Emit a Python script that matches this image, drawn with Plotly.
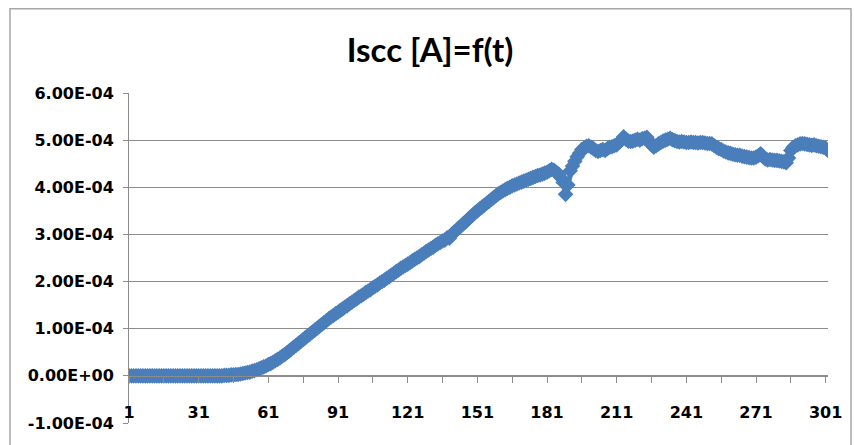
import plotly.graph_objects as go

# Iscc values in units of 1e-4 A, for t = 1..302
iscc_e4 = [
    0, 0, 0, 0, 0, 0, 0, 0, 0, 0,
    0, 0, 0, 0, 0, 0, 0, 0, 0, 0,
    0, 0, 0, 0, 0, 0, 0, 0, 0, 0,
    0, 0, 0, 0, 0, 0, 0, 0, 0, 0,
    0.00, 0.01, 0.01, 0.01, 0.02, 0.02, 0.03, 0.03, 0.04, 0.05,
    0.06, 0.07, 0.08, 0.10, 0.11, 0.13, 0.15, 0.17, 0.19, 0.21,
    0.24, 0.26, 0.29, 0.32, 0.35, 0.38, 0.42, 0.45, 0.49, 0.53,
    0.57, 0.61, 0.65, 0.69, 0.73, 0.77, 0.81, 0.85, 0.89, 0.93,
    0.97, 1.01, 1.05, 1.09, 1.13, 1.17, 1.21, 1.25, 1.28, 1.32,
    1.35, 1.39, 1.42, 1.46, 1.49, 1.53, 1.56, 1.60, 1.63, 1.67,
    1.70, 1.73, 1.77, 1.80, 1.83, 1.87, 1.90, 1.93, 1.97, 2.00,
    2.03, 2.07, 2.10, 2.14, 2.17, 2.21, 2.24, 2.28, 2.31, 2.34,
    2.37, 2.40, 2.44, 2.47, 2.50, 2.53, 2.57, 2.60, 2.64, 2.67,
    2.70, 2.73, 2.77, 2.80, 2.83, 2.86, 2.88, 2.93, 2.92, 3.00,
    3.05, 3.09, 3.14, 3.18, 3.23, 3.27, 3.32, 3.37, 3.41, 3.46,
    3.50, 3.54, 3.58, 3.62, 3.66, 3.70, 3.74, 3.78, 3.82, 3.86,
    3.89, 3.92, 3.95, 3.98, 4.00, 4.03, 4.05, 4.07, 4.09, 4.11,
    4.13, 4.15, 4.17, 4.19, 4.21, 4.23, 4.25, 4.26, 4.28, 4.30,
    4.32, 4.35, 4.38, 4.36, 4.32, 4.28, 4.20, 4.10, 3.85, 4.05,
    4.35, 4.45, 4.55, 4.65, 4.72, 4.80, 4.84, 4.87, 4.88, 4.85,
    4.82, 4.78, 4.76, 4.78, 4.80, 4.78, 4.82, 4.85, 4.86, 4.88,
    4.90, 4.95, 5.00, 5.07, 5.02, 4.98, 4.97, 4.98, 5.00, 5.02,
    5.00, 5.03, 5.04, 5.06, 4.98, 4.90, 4.85, 4.88, 4.92, 4.95,
    4.98, 5.00, 5.02, 5.04, 5.01, 4.99, 4.97, 4.96, 4.97, 4.96,
    4.95, 4.95, 4.96, 4.95, 4.95, 4.94, 4.95, 4.95, 4.94, 4.93,
    4.93, 4.92, 4.88, 4.85, 4.82, 4.80, 4.77, 4.75, 4.73, 4.72,
    4.70, 4.69, 4.68, 4.68, 4.66, 4.65, 4.64, 4.63, 4.62, 4.62,
    4.64, 4.67, 4.71, 4.65, 4.60, 4.58, 4.59, 4.58, 4.57, 4.57,
    4.56, 4.55, 4.54, 4.52, 4.62, 4.78, 4.85, 4.88, 4.90, 4.92,
    4.93, 4.92, 4.91, 4.90, 4.89, 4.90, 4.88, 4.87, 4.86, 4.85,
    4.83, 4.78,
]
t_values = list(range(1, len(iscc_e4) + 1))
iscc = [v * 1e-4 for v in iscc_e4]

y_tickvals = [-1e-4, 0, 1e-4, 2e-4, 3e-4, 4e-4, 5e-4, 6e-4]
y_ticktext = ["-1.00E-04", "0.00E+00", "1.00E-04", "2.00E-04",
              "3.00E-04", "4.00E-04", "5.00E-04", "6.00E-04"]
x_tickvals = [1, 31, 61, 91, 121, 151, 181, 211, 241, 271, 301]
x_ticktext = [str(v) for v in x_tickvals]

title_text = "Iscc [A]=f(t)"

BLUE = "#4A7EBB"
GRID = "#8C8C8C"
TITLE_FONT = "Lato"
TICK_FONT = "DejaVu Sans"

fig = go.Figure()
fig.add_trace(go.Scatter(
    x=t_values, y=iscc, mode="lines+markers",
    line=dict(color=BLUE, width=5),
    marker=dict(symbol="diamond", size=12, color=BLUE),
    showlegend=False, hoverinfo="skip",
))

W, H = 854, 445
L, R, T, B = 129, 26, 93, 19
pw, ph = W - L - R, H - T - B

fig.update_layout(
    width=W, height=H,
    margin=dict(l=L, r=R, t=T, b=B, pad=0),
    paper_bgcolor="white", plot_bgcolor="white",
    title=dict(text="<b>" + title_text + "</b>", x=430 / W, xanchor="center",
               xref="container", y=1 - 50 / H, yref="container", yanchor="middle",
               font=dict(family=TITLE_FONT, size=33, color="#000000")),
    xaxis=dict(
        range=[1, 302], tickmode="array", tickvals=x_tickvals, ticktext=x_ticktext,
        showgrid=False, zeroline=False, showline=True, linecolor=GRID, linewidth=1,
        ticks="outside", ticklen=6, tickcolor=GRID,
        minor=dict(tickmode="array", tickvals=[v + 15 for v in x_tickvals[:-1]],
                   ticks="outside", ticklen=6, tickcolor=GRID, showgrid=False),
        anchor="free", position=1 / 7, ticklabelstandoff=16,
        tickfont=dict(family=TICK_FONT, size=16, color="#000000", weight="bold"),
    ),
    yaxis=dict(
        range=[-1e-4, 6e-4], tickmode="array", tickvals=y_tickvals, ticktext=y_ticktext,
        showgrid=True, gridcolor=GRID, gridwidth=1, zeroline=False,
        showline=True, linecolor=GRID, linewidth=1,
        ticks="outside", ticklen=5, tickcolor=GRID, ticklabelstandoff=6,
        tickfont=dict(family=TICK_FONT, size=16, color="#000000", weight="bold"),
    ),
    shapes=[dict(type="rect", xref="paper", yref="paper",
                 x0=(10 - L) / pw, x1=(851 - L) / pw,
                 y0=-0.2, y1=(H - B - 8) / ph,
                 line=dict(color="#A6A6A6", width=1.5), layer="below")],
)

fig.write_html("out.html")
